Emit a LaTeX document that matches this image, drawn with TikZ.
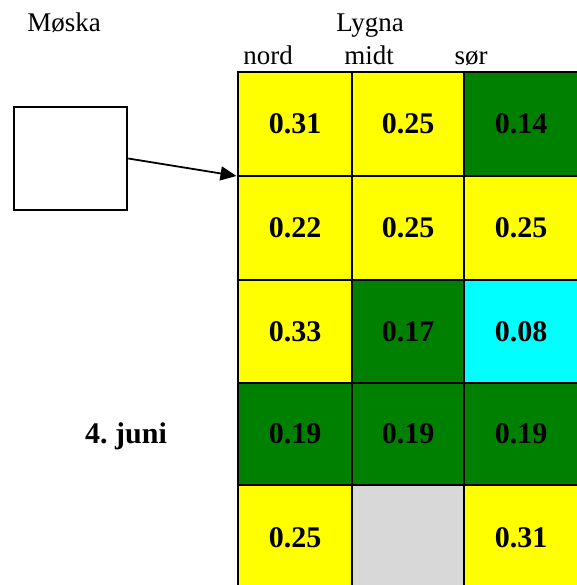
\documentclass[tikz,border=0pt]{standalone}
\usepackage{fontspec}
\setmainfont{Liberation Serif}
\usetikzlibrary{arrows.meta}
\definecolor{cyel}{HTML}{FFFF00}
\definecolor{cgrn}{HTML}{008000}
\definecolor{ccyn}{HTML}{00FFFF}
\definecolor{cgry}{HTML}{D8D8D8}
\frenchspacing
\begin{document}
\begin{tikzpicture}[x=1pt,y=-1pt,
  cell/.style={draw=black,line width=2.5pt,inner sep=0pt,outer sep=0pt,
    font=\fontsize{30}{30}\selectfont\bfseries},
  lbl/.style={font=\fontsize{27}{27}\selectfont,anchor=base,inner sep=0pt},
  boxstyle/.style={draw=black,line width=2.5pt,inner sep=0pt,minimum width=113pt,minimum height=103pt}]
\useasboundingbox (0,0) rectangle (576,585);
\fill[white] (0,0) rectangle (576,585);
% row 1
\node[cell,fill=cyel,minimum width=114pt,minimum height=104pt] (c11) at (295,124) {0.31};
\node[cell,fill=cyel,minimum width=112pt,minimum height=104pt] (c12) at (408,124) {0.25};
\node[cell,fill=cgrn,minimum width=114pt,minimum height=104pt] (c13) at (521,124) {0.14};
% row 2
\node[cell,fill=cyel,minimum width=114pt,minimum height=104pt] (c21) at (295,228) {0.22};
\node[cell,fill=cyel,minimum width=112pt,minimum height=104pt] (c22) at (408,228) {0.25};
\node[cell,fill=cyel,minimum width=114pt,minimum height=104pt] (c23) at (521,228) {0.25};
% row 3
\node[cell,fill=cyel,minimum width=114pt,minimum height=103pt] (c31) at (295,331.5) {0.33};
\node[cell,fill=cgrn,minimum width=112pt,minimum height=103pt] (c32) at (408,331.5) {0.17};
\node[cell,fill=ccyn,minimum width=114pt,minimum height=103pt] (c33) at (521,331.5) {0.08};
% row 4
\node[cell,fill=cgrn,minimum width=114pt,minimum height=102pt] (c41) at (295,434) {0.19};
\node[cell,fill=cgrn,minimum width=112pt,minimum height=102pt] (c42) at (408,434) {0.19};
\node[cell,fill=cgrn,minimum width=114pt,minimum height=102pt] (c43) at (521,434) {0.19};
% row 5
\node[cell,fill=cyel,minimum width=114pt,minimum height=105pt] (c51) at (295,537.5) {0.25};
\node[cell,fill=cgry,minimum width=112pt,minimum height=105pt] (c52) at (408,537.5) {};
\node[cell,fill=cyel,minimum width=114pt,minimum height=105pt] (c53) at (521,537.5) {0.31};
% labels
\node[lbl] (moska) at (64,32) {Møska};
\node[lbl] (lygna) at (370,32) {Lygna};
\node[lbl] (nord) at (268,65) {nord};
\node[lbl] (midt) at (369,65) {midt};
\node[lbl] (sor) at (471,65) {sør};
\node[font=\fontsize{30}{30}\selectfont\bfseries,inner sep=0pt] (date) at (126,436) {4. juni};
% box and arrow
\node[boxstyle] (box) at (70.5,158.5) {};
\draw[line width=1.8pt,-{Triangle[length=16pt,width=14pt]}] (box.east) -- ([xshift=-1.5pt]c11.south west);
\end{tikzpicture}
\end{document}
